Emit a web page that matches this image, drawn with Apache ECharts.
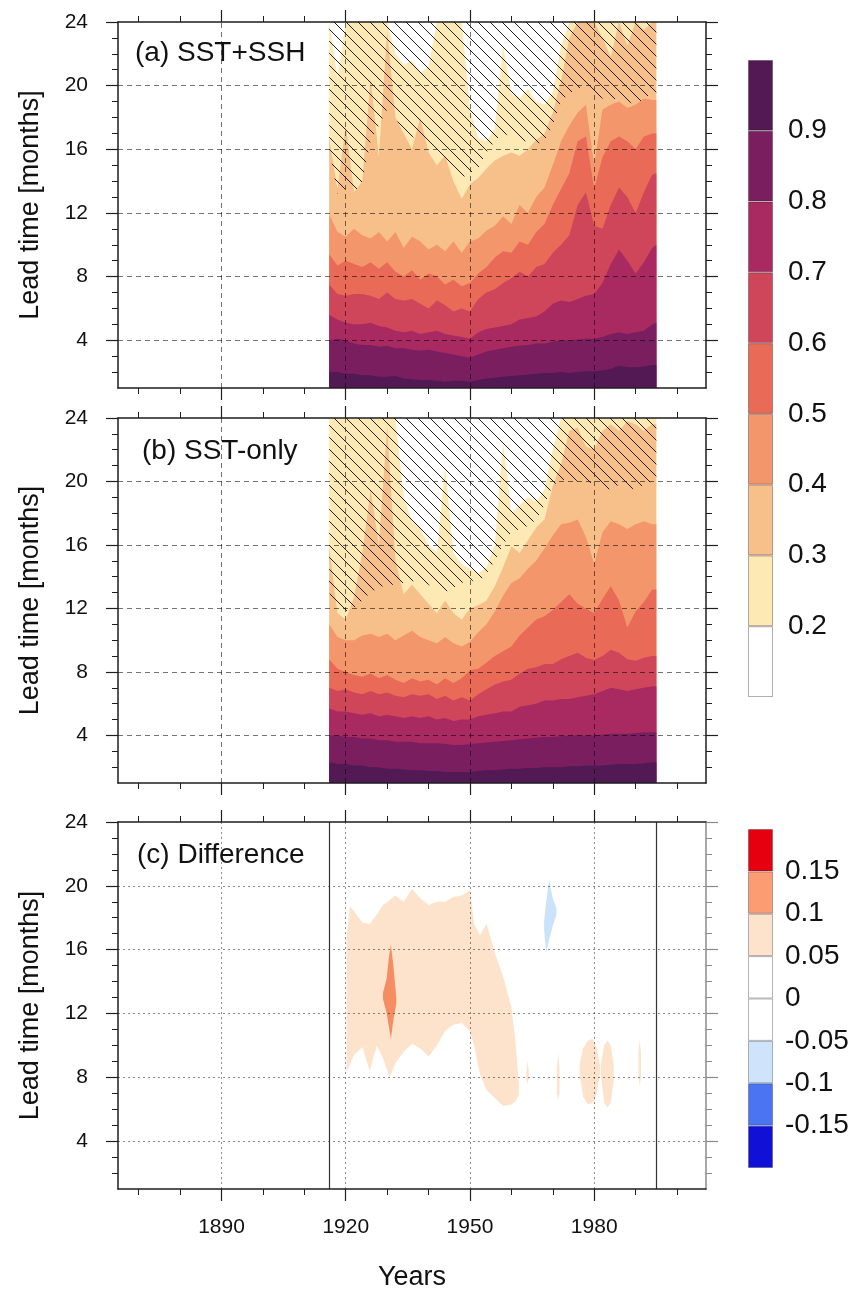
<!DOCTYPE html>
<html>
<head>
<meta charset="utf-8">
<script src="https://cdn.jsdelivr.net/npm/echarts@6.0.0/dist/echarts.min.js"></script>
<style>
html,body{margin:0;padding:0;background:#fff;}
#chart{width:861px;height:1295px;}
</style>
</head>
<body>
<div id="chart"></div>
<script>
// ================= DATA =================
// Axis ranges and tick values
const X_MIN = 1865, X_MAX = 2007, Y_MIN = 1, Y_MAX = 24;
const majorYears = [1890, 1920, 1950, 1980];
const minorYears = [1870, 1880, 1900, 1910, 1930, 1940, 1960, 1970, 1990, 2000];
const majorLeads = [4, 8, 12, 16, 20, 24];
const minorLeads = [2, 3, 5, 6, 7, 9, 10, 11, 13, 14, 15, 17, 18, 19, 21, 22, 23];
const gridLeads = [4, 8, 12, 16, 20];
const dataSpan = [1916, 1995];

// Years at which the contour boundaries are read
const years = [1916,1918,1920,1922,1924,1926,1928,1930,1932,1934,1936,1938,1940,1942,1944,1946,1948,1950,1952,1954,
               1956,1958,1960,1962,1964,1966,1968,1970,1972,1974,1976,1978,1980,1982,1984,1986,1988,1990,1992,1994,1995];

// Correlation levels and band colours (band above each level)
const levelsAB = ['0.2', '0.3', '0.4', '0.5', '0.6', '0.7', '0.8', '0.9'];
const bandColors = ['#fde9b3', '#f7bf8a', '#f3966b', '#e86a57', '#cf465b', '#a82a60', '#7b1e60', '#521955'];

// ---- (a) SST+SSH : lead time (months) where correlation crosses each level ----
const a_r20 = [24,20.5,24,24,24,24,24,24,22.0,21.3,21.6,20.8,21.2,24,24,24,24,18.5,16.7,16.5,
               17.3,22.5,19.5,19.2,19.8,19.0,18.8,19.6,22.5,24,24,24,24,24,24,24,24,24,24,24,24];
const a_r30 = [16.7,13.5,17.5,13.3,14.0,20.5,15.5,23.5,18.0,17.0,16.0,18.0,15.8,15.0,15.6,14.0,12.9,13.8,14.2,14.8,
               15.3,15.6,15.8,15.6,16.0,16.6,17.0,18.3,20.3,23.0,24,24,24,23.0,21.8,24,22.5,24,23.5,24,24];
const a_r40 = [11.9,10.8,10.5,11.0,10.6,10.4,10.8,10.2,10.8,9.8,10.5,10.2,9.7,10.0,9.6,10.2,9.5,10.2,10.4,10.9,
               11.2,11.8,11.3,12.5,12.0,13.0,13.6,15.0,16.5,17.5,18.3,18.8,15.0,18.5,18.8,19.0,18.6,18.8,19.2,19.1,19.1];
const a_r50 = [9.4,8.7,9.0,8.8,8.6,8.9,8.5,8.9,8.3,8.0,8.4,7.8,8.2,8.0,7.5,7.8,7.4,7.6,8.2,8.6,
               9.2,9.6,9.5,10.2,10.0,10.8,11.3,12.5,13.5,14.5,16.5,16.8,13.5,15.5,16.5,16.8,16.5,16.0,16.8,17.0,17.0];
const a_r60 = [7.5,6.9,6.8,6.9,6.9,6.8,6.6,7.0,6.6,6.5,6.6,6.3,6.0,6.5,6.2,5.8,6.0,5.8,6.6,7.0,
               7.2,7.6,7.9,8.3,8.0,8.6,8.8,9.5,10.0,10.6,12.5,13.3,11.2,11.0,12.5,13.6,13.0,12.0,13.3,14.4,14.5];
const a_r70 = [5.6,5.3,5.1,5.0,5.0,5.1,4.9,4.8,4.6,4.5,4.6,4.4,4.5,4.6,4.4,4.3,4.2,4.1,4.5,4.7,
               4.8,4.9,5.0,5.3,5.4,5.5,5.8,6.3,6.5,6.4,6.6,6.8,6.9,7.6,8.8,9.7,9.0,8.2,8.9,9.8,10.0];
const a_r80 = [4.0,4.1,4.0,3.8,3.7,3.7,3.6,3.65,3.5,3.5,3.4,3.35,3.4,3.3,3.2,3.1,3.0,2.9,3.1,3.3,
               3.4,3.5,3.6,3.65,3.7,3.8,3.8,3.9,4.0,4.0,4.05,4.1,4.1,4.2,4.4,4.5,4.4,4.5,4.6,5.0,5.1];
const a_r90 = [2.0,2.0,1.9,1.9,1.8,1.8,1.7,1.7,1.75,1.6,1.55,1.5,1.5,1.45,1.4,1.45,1.45,1.4,1.5,1.6,
               1.65,1.7,1.75,1.8,1.85,1.9,1.95,1.95,2.0,1.95,2.0,2.05,2.05,2.1,2.2,2.4,2.3,2.3,2.35,2.45,2.45];
// lower edge of the non-significant (hatched) region
const a_hatch = [16.0,13.2,13.5,13.2,14.0,16.5,17.5,18.5,18.0,17.0,16.8,16.5,16.0,15.5,15.0,14.6,14.2,14.5,14.8,15.8,
                 16.5,17.0,16.8,16.5,16.5,16.3,16.5,17.5,19.0,19.5,19.8,20.0,19.5,19.2,19.0,19.3,19.0,18.8,19.2,19.5,19.5];

// ---- (b) SST-only ----
const b_r20 = [24,24,24,24,24,24,24,24,24,19.0,17.5,17.0,16.0,15.5,21.0,15.5,14.8,14.5,14.2,14.6,
               16.0,22.5,18.0,18.5,19.0,18.7,19.5,22.0,24,24,24,24,24,24,24,24,24,24,24,24,24];
const b_r30 = [15.9,11.7,11.3,12.7,15.5,19.5,16.0,23.5,15.0,12.9,13.5,12.9,12.3,11.7,12.5,11.7,11.3,12.0,12.2,12.5,
               13.4,14.6,15.9,15.5,16.3,17.1,17.6,19.7,21.1,23.2,23.4,22.2,22.0,23.2,23.6,23.2,23.8,23.6,23.2,23.6,23.6];
const b_r40 = [11.0,10.2,10.0,10.0,10.3,10.4,10.2,10.4,10.0,10.3,10.6,10.2,10.0,9.8,10.2,9.8,9.6,9.9,10.5,11.0,
               11.8,12.8,13.6,13.9,14.5,15.0,15.8,16.6,17.3,17.4,17.6,16.5,14.8,16.8,17.5,17.3,17.0,17.3,17.5,17.3,17.3];
const b_r50 = [8.8,8.2,8.0,7.8,7.7,7.9,7.6,7.8,7.5,7.3,7.6,7.4,7.5,7.2,7.6,7.3,7.6,8.1,8.2,8.6,
               9.0,9.3,9.6,10.3,10.8,11.3,11.5,11.9,12.4,12.9,12.3,12.0,11.7,12.6,13.4,12.5,10.8,11.8,12.4,13.2,13.2];
const b_r60 = [7.0,6.8,6.9,6.7,6.6,6.8,6.6,6.7,6.5,6.4,6.6,6.5,6.6,6.3,6.5,6.2,6.4,6.2,6.6,6.9,
               7.2,7.4,7.5,7.9,8.2,8.3,8.5,8.5,8.8,9.0,9.2,8.9,8.75,9.0,9.4,9.2,8.8,8.7,8.9,9.0,9.0];
const b_r70 = [5.7,5.5,5.5,5.4,5.3,5.4,5.2,5.3,5.2,5.1,5.2,5.1,5.2,5.0,5.1,4.9,5.0,5.0,5.2,5.3,
               5.4,5.5,5.5,5.8,5.9,6.0,6.2,6.2,6.3,6.3,6.4,6.5,6.6,6.8,7.0,6.9,6.8,6.9,7.0,7.1,7.1];
const b_r80 = [4.0,4.0,3.9,3.9,3.8,3.8,3.7,3.7,3.6,3.6,3.6,3.5,3.5,3.5,3.45,3.4,3.4,3.45,3.5,3.55,
               3.6,3.65,3.7,3.75,3.8,3.85,3.9,3.9,3.95,4.0,4.0,4.0,4.0,4.05,4.1,4.1,4.1,4.15,4.2,4.2,4.2];
const b_r90 = [2.3,2.2,2.2,2.1,2.1,2.0,2.0,1.9,1.9,1.85,1.8,1.8,1.75,1.75,1.7,1.7,1.7,1.7,1.75,1.8,
               1.8,1.85,1.9,1.9,1.95,1.95,2.0,2.0,2.0,2.05,2.05,2.1,2.1,2.1,2.15,2.2,2.2,2.2,2.25,2.3,2.3];
const b_hatch = [13.0,11.8,11.8,12.0,12.5,13.0,13.3,13.5,13.5,13.6,13.7,13.8,13.5,13.2,13.0,13.3,13.6,13.8,13.6,14.2,
                 15.0,16.0,16.8,17.0,17.2,17.6,18.5,19.8,20.0,20.3,20.0,19.8,20.0,19.6,19.5,19.8,19.6,19.5,19.8,20.0,20.0];

// ---- (c) Difference : closed regions (lower / upper lead time per year) ----
const c_mainX  = [1920.2,1921,1922,1924,1925.8,1927.5,1929,1930.6,1932,1934,1936,1938,1940,1942,1944,1946,1948,1950,1951,1952.4,1954,1956,1958,1960,1961,1961.8];
const c_mainLo = [8.3,8.8,9.4,9.9,8.4,10.0,9.2,8.0,8.9,9.6,10.1,9.8,9.3,10.0,10.9,11.3,11.4,10.9,10.0,8.2,7.2,6.7,6.2,6.3,6.5,6.9];
const c_mainHi = [16.8,18.7,18.4,17.7,17.6,18.2,18.8,19.1,19.4,19.0,19.8,19.2,18.8,19.0,19.0,19.3,19.4,19.7,17.6,16.9,17.6,15.8,14.3,12.4,10.2,7.6];
const c_spotX  = [1929.0,1929.9,1930.4,1930.9,1931.5,1932.2];
const c_spotLo = [12.9,12.0,11.2,10.4,11.6,12.6];
const c_spotHi = [13.3,14.2,15.5,16.3,15.0,13.0];
const c_blueX  = [1967.9,1968.4,1969.1,1969.9,1970.9];
const c_blueLo = [17.3,15.8,16.6,17.4,18.2];
const c_blueHi = [17.8,19.0,20.4,19.3,18.6];
const c_aX  = [1976.5,1977.3,1978.5,1979.7,1980.6,1981.4];
const c_aLo = [8.2,6.8,6.3,6.4,7.0,8.2];
const c_aHi = [8.8,9.8,10.3,10.4,9.8,8.8];
const c_bX  = [1981.6,1982.4,1983.2,1984.0,1984.7];
const c_bLo = [8.2,6.4,6.1,6.4,7.8];
const c_bHi = [8.8,10.0,10.3,10.0,8.8];
const c_s1X = [1963.6,1963.9,1964.2], c_s1Lo = [7.9,7.6,7.9], c_s1Hi = [8.3,9.0,8.4];
const c_s2X = [1971.0,1971.3,1971.6], c_s2Lo = [7.0,6.6,7.0], c_s2Hi = [8.6,9.5,8.6];
const c_s3X = [1990.7,1991.0,1991.3], c_s3Lo = [8.0,7.5,8.0], c_s3Hi = [9.6,10.3,9.6];

// Colour bars
const cbLabelsAB = ['', '0.2', '0.3', '0.4', '0.5', '0.6', '0.7', '0.8', '0.9', ''];
const cbColorsAB = ['#ffffff', '#fde9b3', '#f7bf8a', '#f3966b', '#e86a57', '#cf465b', '#a82a60', '#7b1e60', '#521955'];
const cbLabelsC = ['', '-0.15', '-0.1', '-0.05', '0', '0.05', '0.1', '0.15', ''];
const cbColorsC = ['#1010d6', '#4b74f3', '#cfe4fa', '#ffffff', '#ffffff', '#fde3cb', '#fb9c73', '#e6000f'];
const diffPeach = '#fde3cb', diffOrange = '#f58d63', diffBlue = '#cbe3fa';

// ================= BUILD =================
const FF = '"Liberation Sans", Arial, Helvetica, sans-serif';
const FRAME = '#1e1e1e';

function makeHatch() {
  const s = 12;
  const c = document.createElement('canvas');
  c.width = s; c.height = s;
  const ctx = c.getContext('2d');
  ctx.strokeStyle = 'rgba(30,30,30,1)';
  ctx.lineWidth = 1;
  for (const x0 of [-s, 0, s]) {
    ctx.beginPath(); ctx.moveTo(x0, 0); ctx.lineTo(x0 + s, s); ctx.stroke();
  }
  return c;
}
const hatchImg = makeHatch();

function panelAxes(g, opts) {
  const lc = FRAME;
  const hid = {show: false};
  const base = {gridIndex: g, type: 'value', z: 10, splitLine: hid, axisLabel: hid, axisLine: hid, axisTick: hid};
  const xr = {min: X_MIN, max: X_MAX}, yr = {min: Y_MIN, max: Y_MAX};
  const frameLine = (c) => ({show: true, onZero: false, lineStyle: {color: c || lc, width: 1.5}});
  const maj = (vals, c) => ({show: true, customValues: vals, length: 12, lineStyle: {color: c || lc, width: 1.2}});
  const mnr = (vals, c) => ({show: true, customValues: vals, length: 6, lineStyle: {color: c || lc, width: 1}});
  const x = [
    Object.assign({}, base, xr, {position: 'bottom', axisLine: frameLine(), axisTick: maj(majorYears),
      axisLabel: opts.xLabels ? {show: true, customValues: majorYears, margin: 28, fontSize: 21, color: '#111',
        fontFamily: FF, formatter: (v) => String(v)} : hid,
      name: opts.xName || '', nameLocation: 'middle', nameGap: 75,
      nameTextStyle: {fontSize: 27, color: '#111', fontFamily: FF}}),
    Object.assign({}, base, xr, {position: 'bottom', axisTick: mnr(minorYears)}),
    Object.assign({}, base, xr, {position: 'top', axisLine: frameLine(), axisTick: maj(majorYears)}),
    Object.assign({}, base, xr, {position: 'top', axisTick: mnr(minorYears)})
  ];
  const rc = opts.rightColor;
  const y = [
    Object.assign({}, base, yr, {position: 'left', axisLine: frameLine(), axisTick: maj(majorLeads),
      axisLabel: {show: true, customValues: majorLeads, margin: 30, fontSize: 21, color: '#111', fontFamily: FF,
        formatter: (v) => String(v)},
      name: 'Lead time [months]', nameLocation: 'middle', nameGap: 74, nameRotate: 90,
      nameTextStyle: {fontSize: 27, color: '#111', fontFamily: FF}}),
    Object.assign({}, base, yr, {position: 'left', axisTick: mnr(minorLeads)}),
    Object.assign({}, base, yr, {position: 'right', axisLine: frameLine(rc), axisTick: maj(majorLeads, rc)}),
    Object.assign({}, base, yr, {position: 'right', axisTick: mnr(minorLeads, rc)})
  ];
  return {x, y};
}

const noLine = {width: 0, opacity: 0};
function contourSeries(g, bounds, hatch) {
  const s = [];
  bounds.forEach((b, i) => s.push({
    type: 'line', xAxisIndex: 4 * g, yAxisIndex: 4 * g, silent: true, symbol: 'none', z: 2,
    data: years.map((yv, k) => [yv, b[k]]),
    lineStyle: noLine, areaStyle: {color: bandColors[i], opacity: 1, origin: 'start'}
  }));
  s.push({
    type: 'line', xAxisIndex: 4 * g, yAxisIndex: 4 * g, silent: true, symbol: 'none', z: 3,
    data: years.map((yv, k) => [yv, hatch[k]]),
    lineStyle: noLine,
    areaStyle: {origin: 'end', opacity: 1, color: {image: hatchImg, repeat: 'repeat'}},
    markLine: {
      silent: true, symbol: ['none', 'none'], label: {show: false}, animation: false, z: 6,
      lineStyle: {type: [5, 4], color: 'rgba(0,0,0,0.55)', width: 1},
      data: [...gridLeads.map(v => ({yAxis: v})), ...majorYears.map(v => ({xAxis: v}))]
    }
  });
  return s;
}

// Difference regions drawn as closed polygons through the axis scales
const diffRegions = [
  {x: c_mainX, lo: c_mainLo, hi: c_mainHi, color: diffPeach},
  {x: c_aX, lo: c_aLo, hi: c_aHi, color: diffPeach},
  {x: c_bX, lo: c_bLo, hi: c_bHi, color: diffPeach},
  {x: c_s1X, lo: c_s1Lo, hi: c_s1Hi, color: diffPeach},
  {x: c_s2X, lo: c_s2Lo, hi: c_s2Hi, color: diffPeach},
  {x: c_s3X, lo: c_s3Lo, hi: c_s3Hi, color: diffPeach},
  {x: c_spotX, lo: c_spotLo, hi: c_spotHi, color: diffOrange},
  {x: c_blueX, lo: c_blueLo, hi: c_blueHi, color: diffBlue}
];

const A = panelAxes(0, {});
const B = panelAxes(1, {});
const C = panelAxes(2, {xLabels: true, xName: 'Years', rightColor: '#8a8a8a'});

const xAxes = [...A.x, ...B.x, ...C.x,
  {type: 'category', gridIndex: 3, data: ['cb'], show: false},
  {type: 'category', gridIndex: 4, data: ['cb'], show: false}];
const cbY = (g, labels, n, margin) => ({
  type: 'value', gridIndex: g, min: 0, max: n, interval: 1, position: 'right',
  axisLine: {show: false}, axisTick: {show: false}, splitLine: {show: false},
  axisLabel: {show: true, margin: margin, fontSize: 28, color: '#111', fontFamily: FF,
    formatter: (v) => labels[Math.round(v)] || ''}
});
const yAxes = [...A.y, ...B.y, ...C.y, cbY(3, cbLabelsAB, 9, 15), cbY(4, cbLabelsC, 8, 12)];

const series = [];
series.push(...contourSeries(0, [a_r20, a_r30, a_r40, a_r50, a_r60, a_r70, a_r80, a_r90], a_hatch));
series.push(...contourSeries(1, [b_r20, b_r30, b_r40, b_r50, b_r60, b_r70, b_r80, b_r90], b_hatch));
series.push({
  type: 'custom', xAxisIndex: 8, yAxisIndex: 8, silent: true, z: 2, clip: true,
  data: diffRegions.map((r, i) => [r.x[0], r.lo[0], i]),
  encode: {x: 0, y: 1},
  renderItem: (params, api) => {
    const r = diffRegions[params.dataIndex];
    const pts = [];
    for (let k = 0; k < r.x.length; k++) pts.push(api.coord([r.x[k], r.hi[k]]));
    for (let k = r.x.length - 1; k >= 0; k--) pts.push(api.coord([r.x[k], r.lo[k]]));
    return {type: 'polygon', shape: {points: pts}, style: {fill: r.color, stroke: null}};
  }
});
// gridlines and data-span lines for (c)
series.push({
  type: 'line', xAxisIndex: 8, yAxisIndex: 8, silent: true, symbol: 'none', z: 3,
  data: dataSpan.map(v => [v, Y_MIN]), lineStyle: noLine,
  markLine: {
    silent: true, symbol: ['none', 'none'], label: {show: false}, animation: false, z: 6,
    lineStyle: {type: [2, 3], color: 'rgba(0,0,0,0.45)', width: 1},
    data: [...gridLeads.map(v => ({yAxis: v})), ...majorYears.map(v => ({xAxis: v})),
      ...dataSpan.map(v => ({xAxis: v, lineStyle: {type: 'solid', color: '#333', width: 1.2}}))]
  }
});
// colour bars
cbColorsAB.forEach((c) => series.push({
  type: 'bar', xAxisIndex: 12, yAxisIndex: 12, stack: 'cbAB', data: [1], barWidth: '100%', silent: true,
  itemStyle: {color: c, borderColor: 'rgba(40,20,30,0.35)', borderWidth: 1}
}));
cbColorsC.forEach((c) => series.push({
  type: 'bar', xAxisIndex: 13, yAxisIndex: 13, stack: 'cbC', data: [1], barWidth: '100%', silent: true,
  itemStyle: {color: c, borderColor: 'rgba(40,40,60,0.35)', borderWidth: 1}
}));

const titleStyle = {fontSize: 28, fontWeight: 'normal', color: '#111', fontFamily: FF};
const option = {
  animation: false,
  backgroundColor: '#ffffff',
  textStyle: {fontFamily: FF},
  tooltip: {show: false},
  title: [
    {text: '(a) SST+SSH', left: 135, top: 39, padding: 0, textStyle: titleStyle},
    {text: '(b) SST-only', left: 142, top: 437, padding: 0, textStyle: titleStyle},
    {text: '(c) Difference', left: 137, top: 841, padding: 0, textStyle: titleStyle}
  ],
  grid: [
    {left: 118, top: 22, width: 588, height: 366, outerBoundsMode: 'none'},
    {left: 118, top: 418, width: 588, height: 365, outerBoundsMode: 'none'},
    {left: 118, top: 822, width: 588, height: 367, outerBoundsMode: 'none'},
    {left: 748, top: 60, width: 25, height: 637, outerBoundsMode: 'none'},
    {left: 748, top: 829, width: 25, height: 339, outerBoundsMode: 'none'}
  ],
  xAxis: xAxes,
  yAxis: yAxes,
  series: series
};

const chart = echarts.init(document.getElementById('chart'), null, {renderer: 'canvas', width: 861, height: 1295});
chart.setOption(option);
</script>
</body>
</html>
